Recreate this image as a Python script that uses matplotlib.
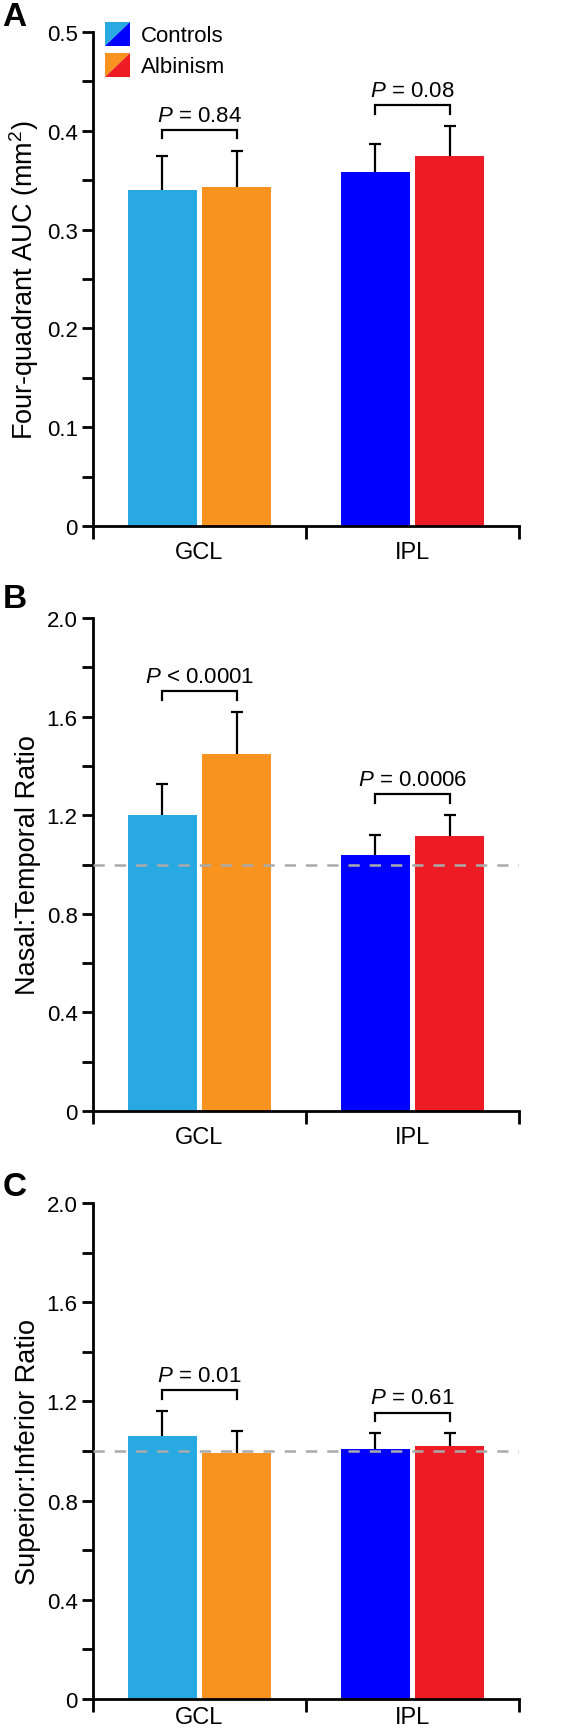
import numpy as np
import matplotlib
matplotlib.use('Agg')
import matplotlib.pyplot as plt
from matplotlib.patches import Polygon
from matplotlib.legend_handler import HandlerBase

plt.rcParams['font.family'] = ['Liberation Sans', 'DejaVu Sans']
plt.rcParams['mathtext.fontset'] = 'custom'
plt.rcParams['mathtext.rm'] = 'Liberation Sans'
plt.rcParams['mathtext.it'] = 'Liberation Sans:italic'

# Data
layers = ['GCL', 'IPL']
groups = ['Controls', 'Albinism']

auc_ctrl = [0.340, 0.358]
auc_ctrl_sd = [0.034, 0.029]
auc_alb = [0.343, 0.374]
auc_alb_sd = [0.037, 0.031]
auc_p = ['= 0.84', '= 0.08']

nt_ctrl = [1.20, 1.038]
nt_ctrl_sd = [0.127, 0.081]
nt_alb = [1.45, 1.116]
nt_alb_sd = [0.169, 0.084]
nt_p = ['< 0.0001', '= 0.0006']

si_ctrl = [1.062, 1.009]
si_ctrl_sd = [0.098, 0.062]
si_alb = [0.991, 1.019]
si_alb_sd = [0.089, 0.052]
si_p = ['= 0.01', '= 0.61']

c_light_blue = '#29A9E1'
c_orange = '#F7931E'
c_blue = '#0000FF'
c_red = '#ED1C24'


class SplitPatch:
    def __init__(self, c1, c2):
        self.c1 = c1
        self.c2 = c2


class SplitHandler(HandlerBase):
    def create_artists(self, legend, orig_handle, xdescent, ydescent,
                       width, height, fontsize, trans):
        x0, y0 = -xdescent, -ydescent
        up = Polygon([[x0, y0], [x0, y0 + height], [x0 + width, y0 + height]],
                     closed=True, facecolor=orig_handle.c1, edgecolor='none', transform=trans)
        lo = Polygon([[x0, y0], [x0 + width, y0], [x0 + width, y0 + height]],
                     closed=True, facecolor=orig_handle.c2, edgecolor='none', transform=trans)
        return [up, lo]


def fmt(v):
    return '0' if v == 0 else '%.1f' % v


def panel(ax, ctrl, ctrl_sd, alb, alb_sd, pvals, ymax, major, minor, ylabel,
          ref=False, xpad=11):
    x = np.arange(len(layers)) + 0.5
    xc = x - 0.175
    xa = x + 0.175
    w = 0.325
    for i in range(len(layers)):
        cc = c_light_blue if i == 0 else c_blue
        ca = c_orange if i == 0 else c_red
        ax.bar(xc[i], ctrl[i], w, color=cc, zorder=2)
        ax.bar(xa[i], alb[i], w, color=ca, zorder=2)
    # symmetric bars drawn behind the columns so only the upper half shows
    ax.errorbar(xc, ctrl, yerr=ctrl_sd, fmt='none', ecolor='k',
                elinewidth=1.6, capsize=4, capthick=1.6, zorder=1)
    ax.errorbar(xa, alb, yerr=alb_sd, fmt='none', ecolor='k',
                elinewidth=1.6, capsize=4, capthick=1.6, zorder=1)

    if ref:
        ax.axhline(1.0, color='#aaaaaa', lw=1.8, ls=(0, (4.5, 4)), zorder=3)

    for i in range(len(layers)):
        top = max(ctrl[i] + ctrl_sd[i], alb[i] + alb_sd[i]) + 0.042 * ymax
        leg = 0.017 * ymax
        ax.plot([xc[i], xc[i], xa[i], xa[i]], [top - leg, top, top, top - leg],
                color='k', lw=1.6, solid_joinstyle='miter', zorder=3)
        ax.annotate(r'$\it{P}$ ' + pvals[i], ((xc[i] + xa[i]) / 2, top), xytext=(0, 3),
                    textcoords='offset points', ha='center', va='bottom', fontsize=16)

    ax.set_xlim(0, 2)
    ax.set_ylim(0, ymax)
    ax.spines['top'].set_visible(False)
    ax.spines['right'].set_visible(False)
    ax.spines['left'].set_linewidth(2)
    ax.spines['bottom'].set_linewidth(2)
    ax.set_xticks([0, 1, 2])
    ax.set_xticklabels([])
    ax.set_xticks(x, labels=layers, minor=True)
    ax.tick_params(axis='x', which='major', direction='out', length=9, width=2)
    ax.tick_params(axis='x', which='minor', length=0, pad=xpad, labelsize=17)
    yt = np.arange(0, ymax + 1e-9, major)
    ax.set_yticks(yt)
    ax.set_yticklabels([fmt(v) for v in yt])
    ax.set_yticks(np.arange(0, ymax + 1e-9, minor), minor=True)
    ax.tick_params(axis='y', which='both', direction='out', length=8, width=2, labelsize=16, pad=3)
    ax.set_ylabel(ylabel, fontsize=19.5, labelpad=4)


fig = plt.figure(figsize=(5.66, 17.33), dpi=100)
H = 1733.0
left = 93 / 566
width = 426 / 566
axA = fig.add_axes([left, 1 - 527 / H, width, 494 / H])
axB = fig.add_axes([left, 1 - 1112 / H, width, 493 / H])
axC = fig.add_axes([left, 1 - 1700 / H, width, 496 / H])

panel(axA, auc_ctrl, auc_ctrl_sd, auc_alb, auc_alb_sd, auc_p, 0.5, 0.1, 0.05,
      'Four-quadrant AUC (mm$^2$)')
panel(axB, nt_ctrl, nt_ctrl_sd, nt_alb, nt_alb_sd, nt_p, 2.0, 0.4, 0.2,
      'Nasal:Temporal Ratio', ref=True)
panel(axC, si_ctrl, si_ctrl_sd, si_alb, si_alb_sd, si_p, 2.0, 0.4, 0.2,
      'Superior:Inferior Ratio', ref=True, xpad=5)

handles = [SplitPatch(c_light_blue, c_blue), SplitPatch(c_orange, c_red)]
axA.legend(handles, groups, handler_map={SplitPatch: SplitHandler()},
           loc='upper left', bbox_to_anchor=(0.028, 1.02), frameon=False,
           fontsize=16, handlelength=1.15, handleheight=1.25, handletextpad=0.45,
           labelspacing=0.3, borderpad=0, borderaxespad=0)

for lab, ytop in [('A', 2), ('B', 584), ('C', 1172)]:
    fig.text(0.004, 1 - ytop / H, lab, fontsize=24, fontweight='bold', va='top', ha='left')

fig.savefig('out.png', dpi=100)
